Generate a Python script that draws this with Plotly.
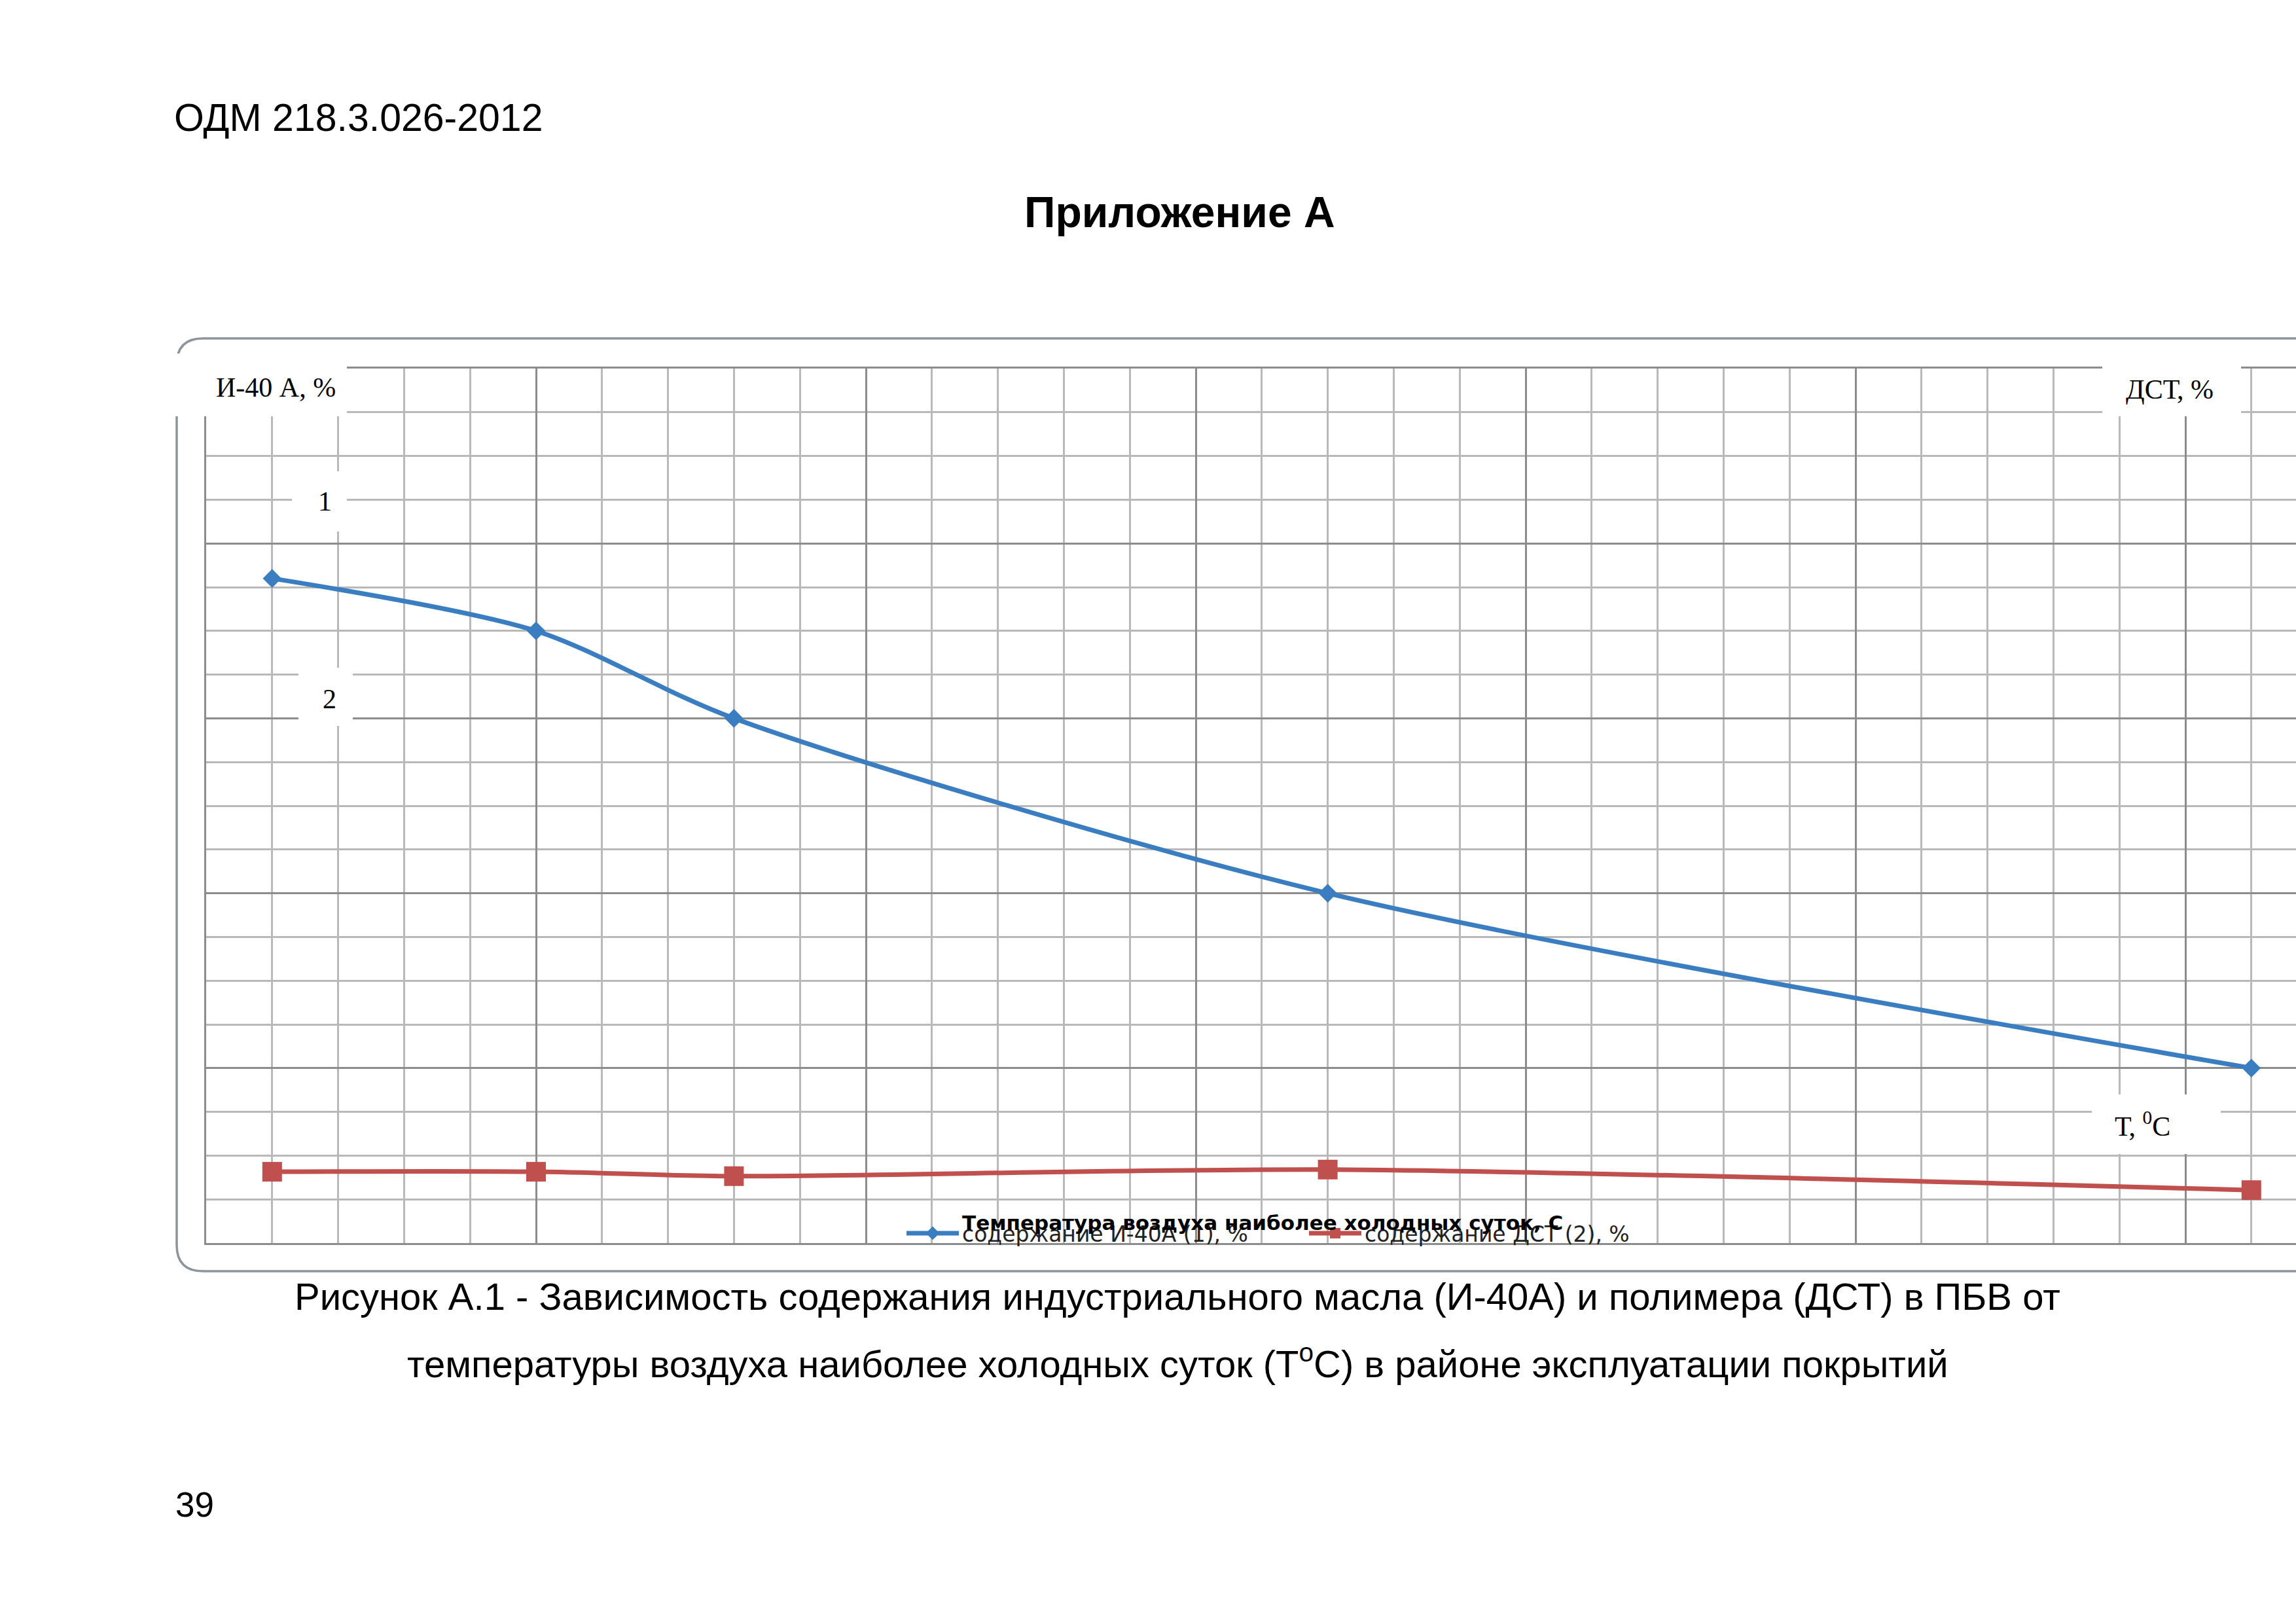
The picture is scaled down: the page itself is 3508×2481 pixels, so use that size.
import plotly.graph_objects as go

# ---- data (x in grid cells of the temperature axis, y in grid cells) ----
temperature_pos = [1, 5, 8, 17, 31]
oil_i40a = [15.2, 14.0, 12.0, 8.0, 4.0]
polymer_dst = [1.63, 1.63, 1.53, 1.68, 1.21]

series_names = ["содержание И-40А (1), %", "содержание ДСТ (2), %"]
x_title = "Температура воздуха наиболее холодных суток, С"

W, H = 3508, 2481
PL, PR, PT, PB = 315, 3508, 563, 1899


def px(x):
    return (x - PL) / (PR - PL)


def py(y):
    return (PB - y) / (PB - PT)


BLUE = "#3A7DC0"
RED = "#C0504D"
MAJOR = "#8C8C8C"
MINOR = "#B9B9B9"

fig = go.Figure()
fig.add_trace(go.Scatter(
    x=temperature_pos, y=oil_i40a, name=series_names[0], mode="lines+markers",
    line=dict(color=BLUE, width=7, shape="spline", smoothing=0.8),
    marker=dict(symbol="diamond", size=22, color=BLUE)))
fig.add_trace(go.Scatter(
    x=temperature_pos, y=polymer_dst, name=series_names[1], mode="lines+markers",
    line=dict(color=RED, width=7, shape="spline", smoothing=0.8),
    marker=dict(symbol="square", size=30, color=RED)))

axis_common = dict(showticklabels=False, ticks="", zeroline=False,
                   showgrid=True, gridcolor=MAJOR, gridwidth=2.5,
                   showline=True, linecolor=MAJOR, linewidth=3)
fig.update_xaxes(range=[0, (PR - PL) / 100.8], tick0=0, dtick=5, mirror=True,
                 minor=dict(dtick=1, showgrid=True, gridcolor=MINOR, gridwidth=2.5),
                 **axis_common)
fig.update_yaxes(range=[0, 20], tick0=0, dtick=4,
                 minor=dict(dtick=1, showgrid=True, gridcolor=MINOR, gridwidth=2.5),
                 **axis_common)

# chart frame (rounded, runs off the right edge of the page)
x0, x1 = px(270), px(3620)
y0, y1 = py(1942), py(517)
rx, ry = 40 / (PR - PL), 40 / (PB - PT)
frame = (f"M {x1},{y1} L {x0+rx},{y1} Q {x0},{y1} {x0},{y1-ry} "
         f"L {x0},{y0+ry} Q {x0},{y0} {x0+rx},{y0} L {x1},{y0}")
shapes = [dict(type="path", xref="paper", yref="paper", path=frame,
               line=dict(color="#8E949C", width=3.5), layer="below")]

# white label boxes that hide the grid behind the texts
boxes = [(260, 530, 540, 636), (446, 530, 720, 812), (456, 539, 1020, 1109),
         (3212, 3424, 540, 636), (3196, 3393, 1672, 1763)]
for (a, b, c, d) in boxes:
    shapes.append(dict(type="rect", xref="paper", yref="paper",
                       x0=px(a), x1=px(b), y0=py(d), y1=py(c),
                       fillcolor="white", line=dict(width=0), layer="above"))

serif = "Liberation Serif"
sans = "Liberation Sans"
ann = []


def label(text, x, y, size, family, anchor="center", bold=False, color="black"):
    ann.append(dict(text=f"<b>{text}</b>" if bold else text, xref="paper", yref="paper",
                    x=px(x), y=py(y), xanchor=anchor, yanchor="middle", showarrow=False,
                    font=dict(family=family, size=size, color=color)))


label("И-40 А, %", 421, 592, 42, serif)
label("ДСТ, %", 3315, 595, 42, serif)
label("1", 496, 766, 42, serif)
label("2", 503, 1068, 42, serif)
label("Т, <sup>0</sup>С", 3273, 1717, 42, serif)
label(x_title, 1929, 1868, 31, "DejaVu Sans", bold=True)

label("ОДМ 218.3.026-2012", 264, 180, 59, sans, anchor="left")
label("<b>Приложение А</b>", 1802, 324, 66, sans)
label("Рисунок А.1 - Зависимость содержания индустриального масла (И-40А) и полимера (ДСТ) в ПБВ от",
      1799, 1980, 58, sans)
label("температуры воздуха наиболее холодных суток (T<sup>o</sup>C) в районе эксплуатации покрытий",
      1799, 2079, 58, sans)
label("39", 266, 2298, 53, sans, anchor="left")

fig.update_layout(
    width=W, height=H,
    margin=dict(l=PL, r=W - PR, t=PT, b=H - PB, pad=0),
    paper_bgcolor="white", plot_bgcolor="white",
    shapes=shapes, annotations=ann,
    showlegend=True,
    legend=dict(orientation="h", x=px(1380), xanchor="left", y=py(1884), yanchor="middle",
                font=dict(family="DejaVu Sans", size=33, color="#222222"),
                bgcolor="rgba(0,0,0,0)", itemwidth=80, traceorder="normal",
                entrywidth=520, entrywidthmode="pixels"),
)

fig.write_html("out.html", config={"displayModeBar": False},
               post_script="document.body.style.margin='0';")
